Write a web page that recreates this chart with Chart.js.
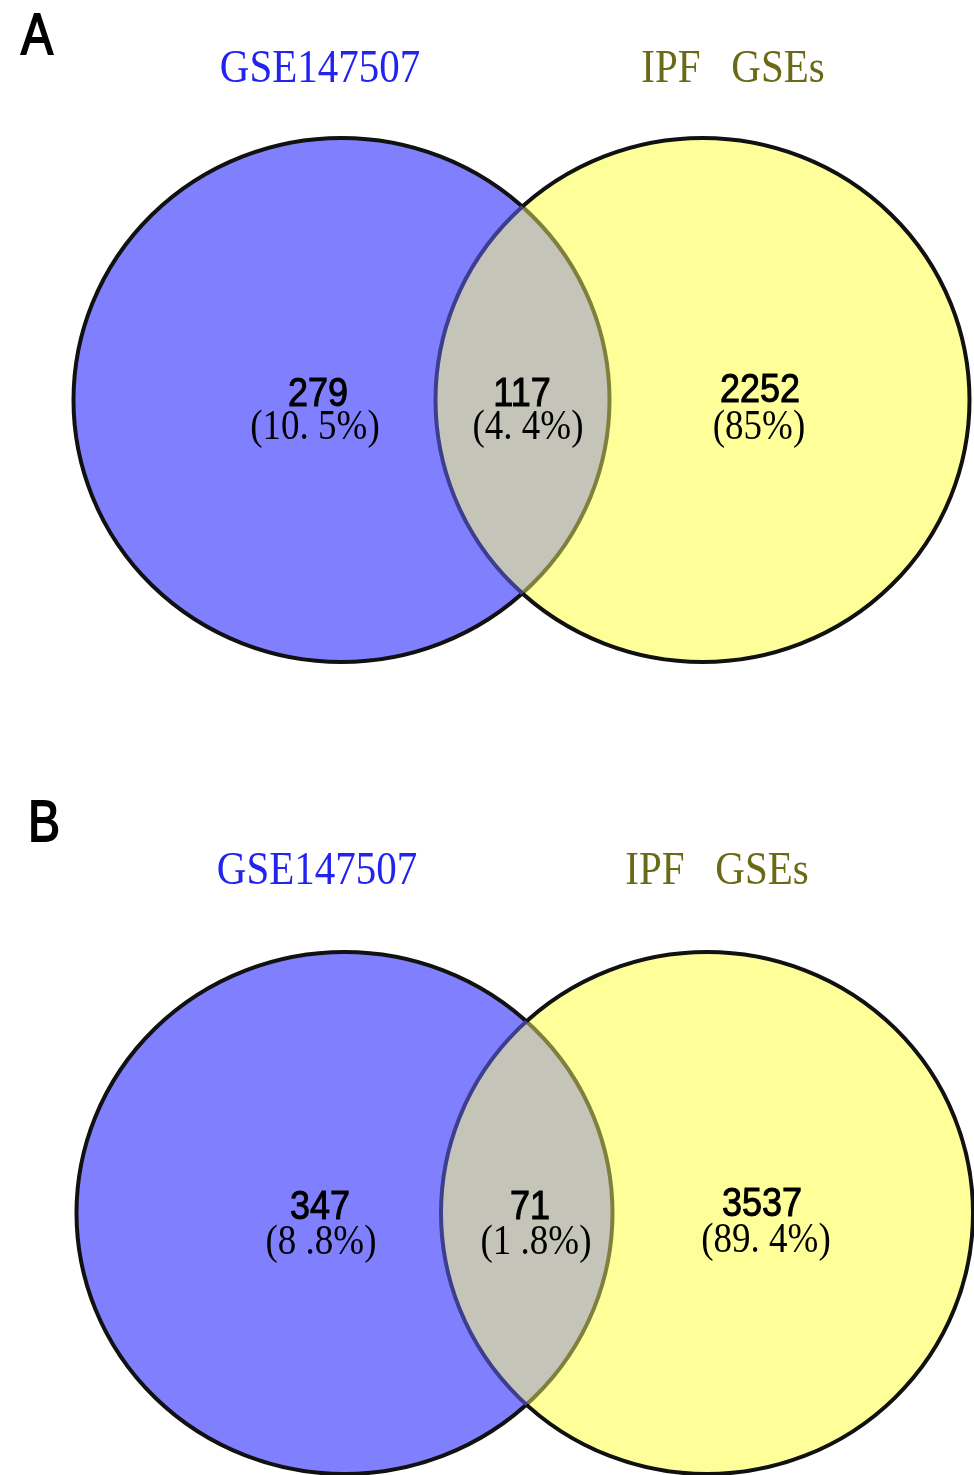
<!DOCTYPE html>
<html>
<head>
<meta charset="utf-8">
<script src="https://cdn.jsdelivr.net/npm/chart.js@4/dist/chart.umd.min.js"></script>
<style>
  html, body { margin: 0; padding: 0; background: #fff; }
  .panel { position: relative; width: 974px; }
  #panelA { height: 737px; }
  #panelB { height: 738px; }
  canvas { display: block; }
</style>
</head>
<body>
<div class="panel" id="panelA"><canvas id="vennA" width="974" height="737"></canvas></div>
<div class="panel" id="panelB"><canvas id="vennB" width="974" height="738"></canvas></div>
<script>
// set names
const setNames = ['GSE147507', 'IPF   GSEs'];

// panel A: only-left, both, only-right
const countsA = [279, 117, 2252];
const pctsA = ['(10. 5%)', '(4. 4%)', '(85%)'];

// panel B
const countsB = [347, 71, 3537];
const pctsB = ['(8 .8%)', '(1 .8%)', '(89. 4%)'];

// layout of each panel (chart units = pixels of that panel)
const layoutA = {
  letter: 'A', letterPos: [37, 38],
  titles: [[320, 70], [733, 70]],
  circles: [{ cx: 341.5, cy: 400, rx: 268, ry: 262 }, { cx: 702.5, cy: 400, rx: 267, ry: 262 }],
  countPos: [[318, 395], [522, 395], [760, 391]],
  pctPos: [[315, 428], [528, 428], [759, 428]]
};
const layoutB = {
  letter: 'B', letterPos: [44, 88],
  titles: [[317, 135], [717, 135]],
  circles: [{ cx: 344.5, cy: 476, rx: 268, ry: 261 }, { cx: 707, cy: 476, rx: 266, ry: 261 }],
  countPos: [[320, 471], [530, 471], [762, 468]],
  pctPos: [[321, 506], [536, 506], [766, 504]]
};

const fills = ['#8080ff', '#ffff99', '#c4c4b9'];
const titleColors = ['#2323f0', '#6a6a16'];
// stroke of each circle where it runs inside the other one
const innerStroke = ['#80803e', '#3e3e8e'];

const SERIF = '"Liberation Serif", "Times New Roman", serif';
const SANS = '"Liberation Sans", Arial, sans-serif';

function ellipsePath(ctx, e) {
  ctx.beginPath();
  ctx.ellipse(e.x, e.y, e.rx, e.ry, 0, 0, Math.PI * 2);
}

function tallText(ctx, txt, x, y, font, sy, weight) {
  ctx.save();
  ctx.translate(x, y);
  ctx.scale(1, sy);
  ctx.font = font;
  ctx.fillText(txt, 0, 0);
  if (weight) {
    ctx.lineWidth = weight;
    ctx.strokeStyle = ctx.fillStyle;
    ctx.strokeText(txt, 0, 0);
  }
  ctx.restore();
}

const vennPlugin = {
  id: 'venn',
  beforeDatasetsDraw(chart, args, opts) {
    const ctx = chart.ctx;
    const xs = chart.scales.x, ys = chart.scales.y;
    const el = opts.layout.circles.map(c => ({
      x: xs.getPixelForValue(c.cx),
      y: ys.getPixelForValue(c.cy),
      rx: Math.abs(xs.getPixelForValue(c.cx + c.rx) - xs.getPixelForValue(c.cx)),
      ry: Math.abs(ys.getPixelForValue(c.cy + c.ry) - ys.getPixelForValue(c.cy))
    }));
    ctx.save();
    // fills
    ellipsePath(ctx, el[0]); ctx.fillStyle = fills[0]; ctx.fill();
    ellipsePath(ctx, el[1]); ctx.fillStyle = fills[1]; ctx.fill();
    ctx.save();
    ellipsePath(ctx, el[0]); ctx.clip();
    ellipsePath(ctx, el[1]); ctx.fillStyle = fills[2]; ctx.fill();
    ctx.restore();

    ctx.lineWidth = 4;
    // outlines: black outside the other circle, tinted inside it
    for (let i = 0; i < 2; i++) {
      const other = el[1 - i];
      ctx.save();
      ctx.beginPath();
      ctx.rect(0, 0, chart.width, chart.height);
      ctx.ellipse(other.x, other.y, other.rx, other.ry, 0, 0, Math.PI * 2);
      ctx.clip('evenodd');
      ellipsePath(ctx, el[i]);
      ctx.strokeStyle = '#111';
      ctx.stroke();
      ctx.restore();

      ctx.save();
      ellipsePath(ctx, other); ctx.clip();
      ellipsePath(ctx, el[i]);
      ctx.strokeStyle = innerStroke[i];
      ctx.stroke();
      ctx.restore();
    }
    ctx.restore();
  },
  afterDatasetsDraw(chart, args, opts) {
    const ctx = chart.ctx;
    const xs = chart.scales.x, ys = chart.scales.y;
    const L = opts.layout;
    const px = p => [xs.getPixelForValue(p[0]), ys.getPixelForValue(p[1])];
    ctx.save();
    ctx.textAlign = 'center';
    ctx.textBaseline = 'middle';

    // panel letter
    let p = px(L.letterPos);
    ctx.fillStyle = '#000';
    tallText(ctx, L.letter, p[0], p[1], '48px ' + SANS, 1.18, 1.5);

    // set titles
    setNames.forEach((name, i) => {
      const q = px(L.titles[i]);
      ctx.fillStyle = titleColors[i];
      tallText(ctx, name, q[0], q[1], '41px ' + SERIF, 1.15);
    });

    // region counts and percents, read from the dataset
    const ds = chart.data.datasets[0];
    ds.data.forEach((d, i) => {
      const c = px(L.countPos[i]);
      ctx.fillStyle = '#000';
      tallText(ctx, String(d.count), c[0], c[1], '36px ' + SANS, 1.15, 0.9);
      const q = px(L.pctPos[i]);
      tallText(ctx, d.pct, q[0], q[1], '37px ' + SERIF, 1.12);
    });
    ctx.restore();
  }
};

function makeVenn(id, counts, pcts, layout, h) {
  new Chart(document.getElementById(id), {
    type: 'scatter',
    data: {
      datasets: [{
        label: 'regions',
        data: counts.map((c, i) => ({ x: layout.countPos[i][0], y: layout.countPos[i][1], count: c, pct: pcts[i] })),
        pointRadius: 0,
        pointHoverRadius: 0
      }]
    },
    options: {
      responsive: false,
      animation: false,
      layout: { padding: 0 },
      scales: {
        x: { type: 'linear', min: 0, max: 974, display: false },
        y: { type: 'linear', min: 0, max: h, reverse: true, display: false }
      },
      plugins: {
        legend: { display: false },
        tooltip: { enabled: false },
        venn: { layout }
      }
    },
    plugins: [vennPlugin]
  });
}

makeVenn('vennA', countsA, pctsA, layoutA, 737);
makeVenn('vennB', countsB, pctsB, layoutB, 738);
</script>
</body>
</html>
